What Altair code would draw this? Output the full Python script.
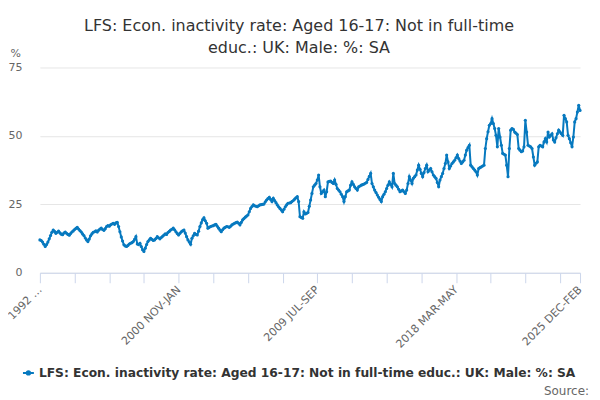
import altair as alt
import pandas as pd

SERIES = "LFS: Econ. inactivity rate: Aged 16-17: Not in full-time educ.: UK: Male: %: SA"
TITLE = ["LFS: Econ. inactivity rate: Aged 16-17: Not in full-time", "educ.: UK: Male: %: SA"]
BLUE = "#0779BF"
FONT = "DejaVu Sans"

# rolling three-month periods, first one is 1992 MAR-MAY
start_year = 1992
start_month = 3
months = ["JAN", "FEB", "MAR", "APR", "MAY", "JUN", "JUL", "AUG", "SEP", "OCT", "NOV", "DEC"]

values = [
    12.0, 11.8, 11.2, 10.4, 9.6, 10.3, 11.2, 12.4, 13.6, 14.8,
    15.6, 15.1, 14.4, 14.8, 15.2, 14.6, 14.1, 13.9, 14.5, 14.9,
    14.4, 14.0, 13.7, 14.3, 14.9, 15.3, 15.8, 16.2, 16.6, 16.0,
    15.4, 14.9, 14.2, 13.6, 12.7, 12.0, 11.4, 12.3, 13.5, 14.2,
    14.8, 15.0, 15.3, 14.9, 15.5, 16.0, 16.3, 15.8, 15.5, 16.1,
    16.9, 17.2, 17.0, 17.5, 17.8, 18.1, 17.7, 18.2, 18.4, 16.9,
    15.0, 13.1, 11.6, 10.2, 9.8, 9.6, 10.0, 10.5, 10.8, 11.0,
    11.4, 12.2, 13.2, 10.5, 10.3, 10.8, 9.6, 8.4, 7.8, 9.0,
    10.3, 11.4, 12.0, 12.6, 12.2, 11.8, 12.0, 12.5, 13.2, 12.8,
    12.4, 12.9, 13.3, 13.8, 14.2, 14.0, 14.7, 15.1, 15.6, 15.9,
    16.3, 15.7, 15.0, 14.3, 13.8, 14.4, 15.0, 15.3, 15.6, 14.5,
    13.2, 12.0, 11.2, 10.4, 12.6, 13.5, 14.4, 14.0, 13.8, 15.2,
    16.9, 18.2, 19.4, 20.1, 19.0, 18.1, 16.3, 16.6, 16.9, 17.1,
    17.2, 17.5, 17.7, 17.0, 16.3, 15.6, 15.0, 15.7, 16.3, 16.6,
    16.9, 16.8, 16.6, 17.0, 17.5, 17.8, 18.1, 18.3, 18.5, 18.1,
    17.5, 18.4, 19.3, 19.8, 20.3, 20.7, 21.1, 22.3, 23.5, 24.2,
    24.8, 24.5, 24.3, 24.1, 24.5, 24.8, 24.9, 25.0, 25.1, 25.9,
    26.6, 27.1, 27.6, 26.8, 26.0, 27.2, 26.4, 25.6, 24.8, 24.1,
    23.5, 22.9, 22.3, 23.2, 24.1, 24.8, 25.4, 25.5, 25.6, 26.0,
    26.4, 26.9, 27.4, 27.8, 26.0, 20.5, 20.2, 19.9, 22.3, 21.5,
    21.7, 22.0, 24.3, 26.6, 29.0, 31.4, 32.0, 32.6, 33.9, 35.7,
    31.4, 29.0, 29.6, 30.2, 27.8, 29.6, 33.2, 33.4, 33.5, 33.0,
    32.6, 33.9, 32.3, 30.8, 30.2, 29.6, 28.7, 27.8, 26.0, 27.8,
    29.6, 29.9, 30.2, 32.0, 33.2, 32.3, 31.4, 30.8, 30.2, 31.4,
    31.7, 32.0, 32.2, 32.4, 32.7, 33.0, 34.1, 35.2, 36.3, 32.6,
    31.4, 30.2, 29.3, 28.4, 27.6, 26.8, 26.0, 27.8, 28.7, 29.6,
    30.8, 32.0, 33.2, 32.3, 31.4, 36.3, 32.6, 32.0, 31.4, 30.5,
    29.6, 29.9, 30.2, 29.6, 29.0, 30.2, 32.6, 35.1, 33.8, 32.6,
    34.5, 35.1, 35.7, 37.5, 39.3, 37.8, 36.3, 35.1, 36.6, 38.1,
    39.3, 36.9, 37.5, 38.1, 36.9, 35.7, 35.1, 34.5, 33.0, 31.4,
    33.9, 35.1, 36.3, 38.1, 39.9, 43.0, 40.5, 38.1, 39.0, 39.9,
    40.5, 41.1, 42.0, 43.0, 41.7, 40.8, 39.9, 40.5, 41.1, 43.0,
    44.8, 45.7, 46.6, 39.3, 38.7, 38.1, 37.5, 36.9, 35.7, 38.1,
    38.4, 38.7, 39.0, 39.3, 45.4, 49.0, 51.5, 53.9, 54.5, 56.3,
    54.5, 52.7, 50.2, 46.0, 52.7, 49.6, 46.6, 43.6, 43.3, 43.0,
    39.3, 35.1, 45.4, 52.1, 52.7, 52.4, 51.4, 51.0, 50.5, 45.4,
    44.8, 44.2, 44.5, 46.0, 55.7, 51.4, 46.6, 46.3, 46.0, 45.4,
    42.3, 39.3, 40.0, 40.5, 46.0, 46.6, 46.3, 46.0, 47.8, 49.0,
    47.8, 51.4, 49.6, 50.2, 50.8, 48.5, 47.8, 49.3, 50.8, 52.1,
    51.4, 50.8, 50.2, 57.5, 56.3, 55.1, 50.2, 49.0, 47.5, 46.0,
    49.6, 55.1, 56.3, 58.7, 61.2, 59.3,
]

y_ticks = [0, 25, 50, 75]
tick_step = 26
label_step = 104


def period_name(i):
    m = start_month - 1 + i
    year = start_year + m // 12
    first = months[m % 12]
    last = months[(m + 2) % 12]
    return f"{year} {first}-{last}"


periods = [period_name(i) for i in range(len(values))]
df = pd.DataFrame({"period": periods, "value": values, "series": SERIES})

tick_periods = periods[::tick_step] + [periods[-1]]
shown = periods[::label_step] + [periods[-1]]
shown_js = "[" + ",".join(f"'{p}'" for p in shown) + "]"
label_expr = (
    f"datum.value == '{periods[0]}' ? '1992 \u2026' : "
    f"(indexof({shown_js}, datum.value) >= 0 ? datum.value : '')"
)

x = alt.X(
    "period:O",
    sort=periods,
    scale=alt.Scale(type="point", padding=0),
    title=None,
    axis=alt.Axis(
        values=tick_periods,
        labelExpr=label_expr,
        labelAngle=315,
        labelAlign="right",
        labelBaseline="middle",
        labelPadding=5,
        labelFont=FONT,
        labelFontSize=11,
        labelColor="#666666",
        labelOverlap=False,
        labelLimit=0,
        labelBound=False,
        domainColor="#ccd6eb",
        tickColor="#ccd6eb",
        tickSize=10,
        grid=False,
    ),
)
y = alt.Y(
    "value:Q",
    scale=alt.Scale(domain=[0, 75], nice=False),
    axis=alt.Axis(
        values=y_ticks,
        title="%",
        titleAngle=0,
        titleAlign="left",
        titleBaseline="bottom",
        titleX=-30,
        titleY=-9,
        titleFont=FONT,
        titleFontSize=11,
        titleFontWeight="normal",
        titleColor="#666666",
        labelFont=FONT,
        labelFontSize=11,
        labelColor="#666666",
        labelPadding=18,
        domain=False,
        ticks=False,
        gridColor="#e6e6e6",
    ),
)

line = (
    alt.Chart(df)
    .mark_line(strokeWidth=2, point=alt.OverlayMarkDef(filled=True, size=10))
    .encode(
        x=x,
        y=y,
        color=alt.Color(
            "series:N",
            scale=alt.Scale(range=[BLUE]),
            legend=alt.Legend(
                title=None,
                orient="none",
                legendX=-18,
                legendY=300,
                symbolType="M-1,0H1M-0.3,0A0.3,0.3,0,1,0,0.3,0A0.3,0.3,0,1,0,-0.3,0Z",
                symbolSize=120,
                symbolStrokeWidth=2,
                labelFont=FONT,
                labelFontSize=12.3,
                labelFontWeight="bold",
                labelColor="#333333",
                labelLimit=0,
            ),
        ),
    )
)

source = (
    alt.Chart(pd.DataFrame({"t": ["Source:"]}))
    .mark_text(align="right", baseline="middle", font=FONT, fontSize=12, color="#666666")
    .encode(x=alt.value(551), y=alt.value(325), text="t:N")
)

chart = (
    alt.layer(line, source)
    .properties(
        width=542,
        height=206,
        autosize=alt.AutoSizeParams(type="none"),
        padding={"left": 32, "top": 59, "right": 12, "bottom": 127},
        title=alt.Title(
            text=TITLE,
            font=FONT,
            fontSize=16,
            fontWeight="normal",
            color="#333333",
            anchor="middle",
            dx=-11,
            dy=12,
            lineHeight=22,
        ),
    )
    .configure_view(strokeWidth=0)
)

chart.save("out.html", embed_options={"renderer": "svg", "actions": False})
